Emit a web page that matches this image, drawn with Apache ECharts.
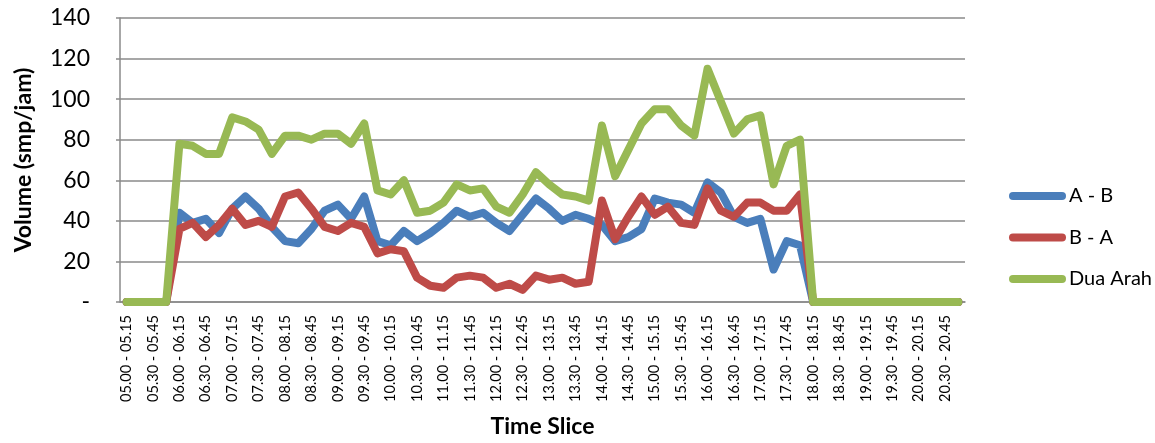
<!DOCTYPE html>
<html>
<head>
<meta charset="utf-8">
<script src="https://cdn.jsdelivr.net/npm/echarts@6/dist/echarts.min.js"></script>
<style>
  html, body { margin: 0; padding: 0; background: #ffffff; }
  #chart { width: 1155px; height: 443px; }
</style>
</head>
<body>
<div id="chart"></div>
<script>
// 15-minute time slices, 05.00 to 21.00
const timeSlices = [
  '05.00 - 05.15','05.15 - 05.30','05.30 - 05.45','05.45 - 06.00',
  '06.00 - 06.15','06.15 - 06.30','06.30 - 06.45','06.45 - 07.00',
  '07.00 - 07.15','07.15 - 07.30','07.30 - 07.45','07.45 - 08.00',
  '08.00 - 08.15','08.15 - 08.30','08.30 - 08.45','08.45 - 09.00',
  '09.00 - 09.15','09.15 - 09.30','09.30 - 09.45','09.45 - 10.00',
  '10.00 - 10.15','10.15 - 10.30','10.30 - 10.45','10.45 - 11.00',
  '11.00 - 11.15','11.15 - 11.30','11.30 - 11.45','11.45 - 12.00',
  '12.00 - 12.15','12.15 - 12.30','12.30 - 12.45','12.45 - 13.00',
  '13.00 - 13.15','13.15 - 13.30','13.30 - 13.45','13.45 - 14.00',
  '14.00 - 14.15','14.15 - 14.30','14.30 - 14.45','14.45 - 15.00',
  '15.00 - 15.15','15.15 - 15.30','15.30 - 15.45','15.45 - 16.00',
  '16.00 - 16.15','16.15 - 16.30','16.30 - 16.45','16.45 - 17.00',
  '17.00 - 17.15','17.15 - 17.30','17.30 - 17.45','17.45 - 18.00',
  '18.00 - 18.15','18.15 - 18.30','18.30 - 18.45','18.45 - 19.00',
  '19.00 - 19.15','19.15 - 19.30','19.30 - 19.45','19.45 - 20.00',
  '20.00 - 20.15','20.15 - 20.30','20.30 - 20.45','20.45 - 21.00'
];

// Traffic volume (smp/jam) per direction
const volumeAB = [
  0, 0, 0, 0, 44, 39, 41, 34, 46, 52, 46, 37, 30, 29, 36, 45,
  48, 41, 52, 30, 28, 35, 30, 34, 39, 45, 42, 44, 39, 35, 43, 51,
  46, 40, 43, 41, 38, 30, 32, 36, 51, 49, 48, 44, 59, 54, 42, 39,
  41, 16, 30, 28, 0, 0, 0, 0, 0, 0, 0, 0, 0, 0, 0, 0
];
const volumeBA = [
  0, 0, 0, 0, 36, 39, 32, 38, 46, 38, 40, 37, 52, 54, 46, 37,
  35, 39, 37, 24, 26, 25, 12, 8, 7, 12, 13, 12, 7, 9, 6, 13,
  11, 12, 9, 10, 50, 31, 42, 52, 43, 47, 39, 38, 56, 45, 42, 49,
  49, 45, 45, 53, 0, 0, 0, 0, 0, 0, 0, 0, 0, 0, 0, 0
];
const volumeTwoWay = [
  0, 0, 0, 0, 78, 77, 73, 73, 91, 89, 85, 73, 82, 82, 80, 83,
  83, 78, 88, 55, 53, 60, 44, 45, 49, 58, 55, 56, 47, 44, 53, 64,
  58, 53, 52, 50, 87, 62, 75, 88, 95, 95, 87, 82, 115, 99, 83, 90,
  92, 58, 77, 80, 0, 0, 0, 0, 0, 0, 0, 0, 0, 0, 0, 0
];

const seriesNames = ['A - B', 'B - A', 'Dua Arah'];
const seriesColors = ['#4a7ebb', '#be4b48', '#98b954'];
const seriesValues = [volumeAB, volumeBA, volumeTwoWay];

const FONT = 'Lato, "Open Sans", sans-serif';
const GRID_COLOR = '#8a8a8a';
const capsule = 'path://M4,0 L53,0 A4,4 0 0 1 53,8 L4,8 A4,4 0 0 1 4,0 Z';

const chart = echarts.init(document.getElementById('chart'), null, { renderer: 'canvas' });

chart.setOption({
  animation: false,
  backgroundColor: '#ffffff',
  textStyle: { fontFamily: FONT, color: '#000000' },
  grid: { left: 120, right: 190, top: 18, bottom: 135.5, containLabel: false },
  legend: {
    orient: 'vertical',
    left: 1004,
    top: 180,
    itemWidth: 57,
    itemHeight: 8,
    itemGap: 19.5,
    icon: capsule,
    textStyle: { fontFamily: FONT, fontSize: 20, color: '#000000', lineHeight: 22, padding: [0, 0, 0, -2] },
    data: seriesNames
  },
  xAxis: {
    type: 'category',
    data: timeSlices,
    boundaryGap: true,
    name: 'Time Slice',
    nameLocation: 'middle',
    nameGap: 113,
    nameTextStyle: { fontFamily: FONT, fontSize: 23, fontWeight: 'bold', color: '#000000' },
    axisLine: { show: true, lineStyle: { color: GRID_COLOR, width: 1.5 } },
    axisTick: { show: false },
    axisLabel: {
      interval: 1,
      rotate: 90,
      margin: 13,
      fontFamily: FONT,
      fontSize: 14.5,
      color: '#000000'
    },
    splitLine: { show: false }
  },
  yAxis: {
    type: 'value',
    min: 0,
    max: 140,
    interval: 20,
    name: 'Volume (smp/jam)',
    nameLocation: 'middle',
    nameGap: 85,
    nameTextStyle: { fontFamily: FONT, fontSize: 23, fontWeight: 'bold', color: '#000000' },
    axisLine: { show: true, lineStyle: { color: GRID_COLOR, width: 1.5 } },
    axisTick: { show: true, length: 4, lineStyle: { color: GRID_COLOR, width: 1.5 } },
    axisLabel: {
      margin: 30,
      fontFamily: FONT,
      fontSize: 23,
      color: '#000000',
      formatter: v => (v === 0 ? '-' : String(v))
    },
    splitLine: { show: true, lineStyle: { color: GRID_COLOR, width: 1.5 } }
  },
  series: seriesNames.map((name, i) => ({
    name: name,
    type: 'line',
    data: seriesValues[i],
    showSymbol: false,
    symbol: 'none',
    color: seriesColors[i],
    lineStyle: { width: 8, color: seriesColors[i], cap: 'round', join: 'round' },
    z: 2 + i
  }))
});
</script>
</body>
</html>
